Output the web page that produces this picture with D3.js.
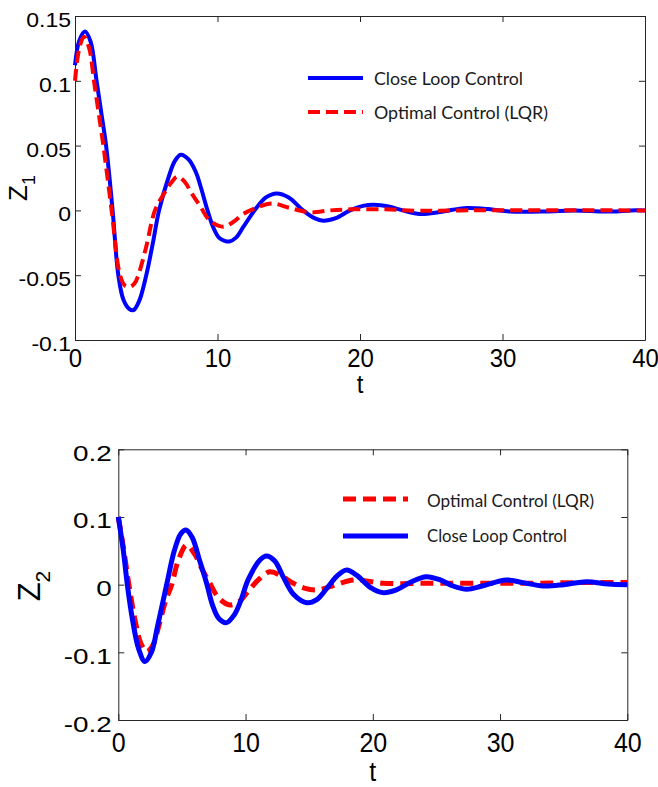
<!DOCTYPE html>
<html>
<head>
<meta charset="utf-8">
<script src="https://d3js.org/d3.v7.min.js"></script>
<style>
  body { margin: 0; background: #fff; }
  svg { display: block; }
  .domain, .tick line { stroke: #262626; stroke-width: 1; }
  .tick text { font-family: "Liberation Sans", Arial, sans-serif; fill: #000; }
  .lbl { font-family: "Liberation Sans", Arial, sans-serif; fill: #000; }
  .leg { font-family: Lato, "Open Sans", sans-serif; fill: #1a1a1a; }
</style>
</head>
<body>
<div id="chart"></div>
<script>
// ---- data ----
const xTicks = [0, 10, 20, 30, 40];
const z1Ticks = [-0.1, -0.05, 0, 0.05, 0.1, 0.15];
const z2Ticks = [-0.2, -0.1, 0, 0.1, 0.2];

// Z1, close loop control
const z1ClT = [0, 0.3, 0.7, 1.1, 1.5, 1.85, 2.18, 2.64, 3.04, 3.4, 3.8, 4.1, 4.5, 5.0, 5.45, 5.9, 6.55, 7.0, 7.42, 8.0, 8.5, 8.8, 9.3, 9.7, 10.1, 10.5, 10.83, 11.3, 11.8, 12.6, 13.4, 14.15, 15.0, 16.0, 16.8, 17.43, 18.3, 19.3, 20.2, 21.0, 22.0, 23.0, 24.2, 25.5, 26.5, 27.5, 29.0, 30.5, 33.0, 35.0, 37.0, 38.0, 39.0, 40];
const z1ClV = [0.112, 0.131, 0.138, 0.130, 0.101, 0.075, 0.050, 0.000, -0.050, -0.069, -0.076, -0.077, -0.070, -0.050, -0.026, 0.000, 0.025, 0.038, 0.043, 0.039, 0.029, 0.019, 0.000, -0.013, -0.021, -0.0235, -0.024, -0.021, -0.013, 0.000, 0.010, 0.0131, 0.010, 0.000, -0.006, -0.008, -0.006, 0.000, 0.0035, 0.0044, 0.003, 0.000, -0.0028, -0.0015, 0.0005, 0.0018, 0.0010, -0.0008, -0.0008, 0.0, -0.0008, -0.0008, 0.0, 0.0];

// Z1, optimal control (LQR)
const z1LqrT = [0, 0.3, 0.63, 1.0, 1.33, 1.65, 1.99, 2.57, 3.16, 3.5, 3.86, 4.2, 4.44, 5.0, 5.61, 6.3, 6.8, 7.18, 7.7, 8.2, 8.77, 9.47, 10.4, 11.1, 11.8, 12.5, 13.8, 15.1, 16.5, 17.9, 19.3, 21.8, 24.0, 27.0, 40];
const z1LqrV = [0.100, 0.125, 0.134, 0.125, 0.100, 0.076, 0.050, 0.000, -0.050, -0.058, -0.059, -0.056, -0.050, -0.028, 0.000, 0.0139, 0.022, 0.026, 0.022, 0.013, 0.0036, -0.008, -0.0126, -0.009, -0.0028, 0.001, 0.0054, 0.0018, -0.0015, 0.0, 0.0008, 0.0008, -0.0003, 0.0, 0.0];

// Z2, close loop control
const z2ClT = [0, 0.39, 0.71, 1.1, 1.6, 2.1, 2.6, 3.1, 3.8, 4.4, 4.9, 5.32, 5.8, 6.4, 6.94, 7.4, 7.9, 8.51, 9.1, 9.6, 10.2, 11.13, 11.65, 12.3, 13.0, 13.8, 14.8, 15.6, 16.4, 17.2, 17.94, 18.8, 19.8, 20.8, 21.8, 23.0, 24.2, 25.3, 26.3, 27.4, 28.6, 30.5, 31.8, 33.4, 35.0, 36.8, 38.5, 40];
const z2ClV = [0.1, 0.051, 0.0, -0.05, -0.095, -0.1137, -0.10, -0.06, 0.0, 0.05, 0.075, 0.0808, 0.07, 0.035, 0.002, -0.03, -0.05, -0.0561, -0.045, -0.025, 0.007, 0.0365, 0.0424, 0.035, 0.01, -0.015, -0.0266, -0.022, -0.005, 0.013, 0.0217, 0.013, -0.004, -0.0118, -0.008, 0.004, 0.0118, 0.007, -0.002, -0.0068, -0.002, 0.0069, 0.003, -0.002, 0.0, 0.0044, 0.001, 0.0];

// Z2, optimal control (LQR)
const z2LqrT = [0, 0.4, 0.9, 1.4, 1.8, 2.23, 2.7, 3.2, 3.7, 4.2, 4.7, 5.37, 6.0, 6.6, 7.2, 7.9, 8.77, 9.5, 10.2, 11.0, 11.9, 12.8, 13.75, 14.6, 15.6, 16.8, 18.5, 20.8, 24.5, 28, 32, 36, 40];
const z2LqrV = [0.1, 0.055, -0.008, -0.06, -0.088, -0.099, -0.09, -0.06, -0.025, 0.0, 0.035, 0.0586, 0.045, 0.022, 0.002, -0.02, -0.030, -0.025, -0.01, 0.007, 0.019, 0.013, 0.002, -0.005, -0.0078, -0.002, 0.0069, 0.002, 0.002, 0.002, 0.002, 0.003, 0.003];

const labelCL = 'Close Loop Control';
const labelLQR = 'Optimal Control (LQR)';

const zip = (ts, vs) => ts.map((t, i) => ({ t: t, v: vs[i] }));

const svg = d3.select('#chart').append('svg')
  .attr('width', 658)
  .attr('height', 787);

function drawPanel(cfg) {
  const x = d3.scaleLinear().domain([0, 40]).range([0, cfg.w]);
  const y = d3.scaleLinear().domain(cfg.yDomain).range([cfg.h, 0]);
  const g = svg.append('g').attr('transform', `translate(${cfg.left},${cfg.top})`);
  const fmt = d => String(d);

  // box with inward ticks on all four sides
  g.append('g').attr('transform', `translate(0,${cfg.h})`)
    .call(d3.axisBottom(x).tickValues(xTicks).tickFormat(fmt).tickSizeInner(-6).tickSizeOuter(0))
    .call(a => a.selectAll('text')
      .attr('dy', null)
      .attr('y', cfg.xLabY / cfg.xSy)
      .attr('transform', `scale(1,${cfg.xSy})`)
      .style('font-size', cfg.xFont + 'px'));
  g.append('g')
    .call(d3.axisTop(x).tickValues(xTicks).tickFormat('').tickSizeInner(-6).tickSizeOuter(0));
  g.append('g')
    .call(d3.axisLeft(y).tickValues(cfg.yTicks).tickFormat(fmt).tickSizeInner(-6).tickSizeOuter(0))
    .call(a => a.selectAll('text')
      .attr('dy', null)
      .attr('x', -cfg.yPad / cfg.ySx)
      .attr('y', cfg.yLabDy)
      .attr('transform', `scale(${cfg.ySx},1)`)
      .style('font-size', cfg.yFont + 'px'));
  g.append('g').attr('transform', `translate(${cfg.w},0)`)
    .call(d3.axisRight(y).tickValues(cfg.yTicks).tickFormat('').tickSizeInner(-6).tickSizeOuter(0));

  const line = d3.line()
    .x(d => x(d.t))
    .y(d => y(d.v))
    .curve(d3.curveCatmullRom.alpha(0.5));

  cfg.series.forEach(s => {
    g.append('path')
      .datum(zip(s.t, s.v))
      .attr('fill', 'none')
      .attr('stroke', s.color)
      .attr('stroke-width', s.width)
      .attr('stroke-dasharray', s.dash || null)
      .attr('stroke-linejoin', 'round')
      .attr('d', line);
  });

  // legend (inside axes, no frame)
  cfg.legend.forEach(l => {
    svg.append('line')
      .attr('x1', l.x1).attr('x2', l.x2)
      .attr('y1', l.y).attr('y2', l.y)
      .attr('stroke', l.color)
      .attr('stroke-width', l.width)
      .attr('stroke-dasharray', l.dash || null);
    svg.append('text')
      .attr('class', 'leg')
      .attr('x', l.tx)
      .attr('y', l.y + l.dy)
      .attr('textLength', l.tw)
      .attr('lengthAdjust', 'spacingAndGlyphs')
      .style('font-size', l.font + 'px')
      .text(l.label);
  });

  // x label "t"
  svg.append('text')
    .attr('class', 'lbl')
    .attr('text-anchor', 'middle')
    .attr('transform', `translate(${cfg.left + cfg.w / 2},${cfg.tY}) scale(1,${cfg.tSy})`)
    .style('font-size', cfg.tFont + 'px')
    .text('t');

  // y label Z with subscript
  const zl = svg.append('text')
    .attr('class', 'lbl')
    .attr('text-anchor', 'middle')
    .attr('transform', `translate(${cfg.zX},${cfg.zY}) rotate(-90)`)
    .style('font-size', cfg.zFont + 'px');
  zl.append('tspan').text('Z');
  zl.append('tspan')
    .attr('dy', cfg.subDy)
    .style('font-size', cfg.subFont + 'px')
    .text(cfg.sub);
}

drawPanel({
  left: 75, top: 16, w: 570, h: 324,
  yDomain: [-0.1, 0.15], yTicks: z1Ticks,
  xFont: 24, xSy: 1.1, xLabY: 27,
  yFont: 20, ySx: 1.15, yPad: 4, yLabDy: 10.5,
  tFont: 24, tSy: 1.05, tY: 393,
  zX: 27, zY: 188, zFont: 26, subFont: 18, subDy: 8, sub: '1',
  series: [
    { t: z1ClT, v: z1ClV, color: '#0000ff', width: 4 },
    { t: z1LqrT, v: z1LqrV, color: '#ff0000', width: 4, dash: '12,6' }
  ],
  legend: [
    { label: labelCL, x1: 308, x2: 363, y: 78, color: '#0000ff', width: 4, tx: 374, tw: 149, dy: 7, font: 17 },
    { label: labelLQR, x1: 308, x2: 363, y: 112, color: '#ff0000', width: 4, dash: '12,6', tx: 374, tw: 174, dy: 6.5, font: 17 }
  ]
});

drawPanel({
  left: 118.3, top: 449.3, w: 509, h: 270.7,
  yDomain: [-0.2, 0.2], yTicks: z2Ticks,
  xFont: 25, xSy: 1.07, xLabY: 32,
  yFont: 22.5, ySx: 1.24, yPad: 6.6, yLabDy: 11,
  tFont: 25, tSy: 1.12, tY: 781,
  zX: 40, zY: 586, zFont: 31, subFont: 21, subDy: 10, sub: '2',
  series: [
    { t: z2LqrT, v: z2LqrV, color: '#ff0000', width: 5, dash: '13,7' },
    { t: z2ClT, v: z2ClV, color: '#0000ff', width: 5 }
  ],
  legend: [
    { label: labelLQR, x1: 343, x2: 408, y: 499, color: '#ff0000', width: 5, dash: '13,7', tx: 427, tw: 167, dy: 7.5, font: 17 },
    { label: labelCL, x1: 343, x2: 408, y: 536, color: '#0000ff', width: 5, tx: 427, tw: 140, dy: 6, font: 17 }
  ]
});
</script>
</body>
</html>
